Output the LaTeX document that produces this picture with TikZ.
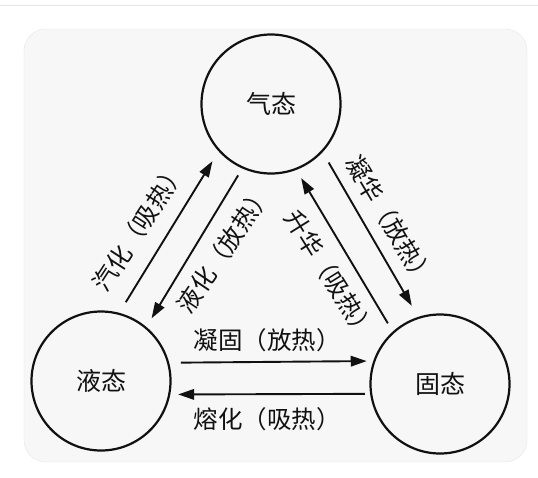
\documentclass[tikz,border=0pt]{standalone}
\usepackage{fontspec}
\newfontfamily\cjk{Noto Sans CJK SC}
\usetikzlibrary{arrows.meta}
\definecolor{bgfill}{HTML}{F7F7F7}
\definecolor{bgline}{HTML}{E6E6E6}
\definecolor{ink}{HTML}{111111}
\begin{document}
\begin{tikzpicture}[x=1pt,y=-1pt,
  state/.style={circle,draw=ink,line width=2.2pt,minimum size=139pt,inner sep=0pt,
    font=\cjk\fontsize{25}{25}\selectfont,text=ink},
  lbl/.style={font=\cjk\fontsize{24.5}{24.5}\selectfont,text=ink,inner sep=0pt},
  arr/.style={draw=ink,line width=1.9pt,-{Triangle[length=16pt,width=10.5pt]}}]
\useasboundingbox (0,0) rectangle (538,477);
\fill[white] (0,0) rectangle (538,477);
\draw[bgline,line width=1pt] (0,5) -- (538,5);
\draw[bgline,fill=bgfill,rounded corners=22pt] (24,29) rectangle (527,462);

\node[state] (G) at (271,104) {气态};
\node[state] (L) at (101,381) {液态};
\node[state] (S) at (440,384) {固态};

\draw[arr,shorten <=12.4pt,shorten >=11.6pt] (L.75.8) -- (G.222.3);
\draw[arr,shorten <=8pt,shorten >=10pt] (G.246.5) -- (L.50.3);
\draw[arr,shorten <=9.6pt,shorten >=9.5pt] (S.132.7) -- (G.291.4);
\draw[arr,shorten <=12pt,shorten >=12.7pt] (G.317.4) -- (S.108.3);
\draw[arr,shorten <=11.6pt,shorten >=6.5pt] (L.15.75) -- (S.161.7);
\draw[arr,shorten <=5.3pt,shorten >=7.8pt] (S.188.2) -- (L.349.3);

\node[lbl,rotate=57] (tq) at (139,227) {汽化（吸热）};
\node[lbl,rotate=56] (ty) at (224,249) {液化（放热）};
\node[lbl,rotate=-58] (ts) at (330,275) {升华（吸热）};
\node[lbl,rotate=-59] (tn) at (390,221) {凝华（放热）};
\node[lbl] (tg) at (267,340) {凝固（放热）};
\node[lbl] (tr) at (267,419) {熔化（吸热）};
\end{tikzpicture}
\end{document}
